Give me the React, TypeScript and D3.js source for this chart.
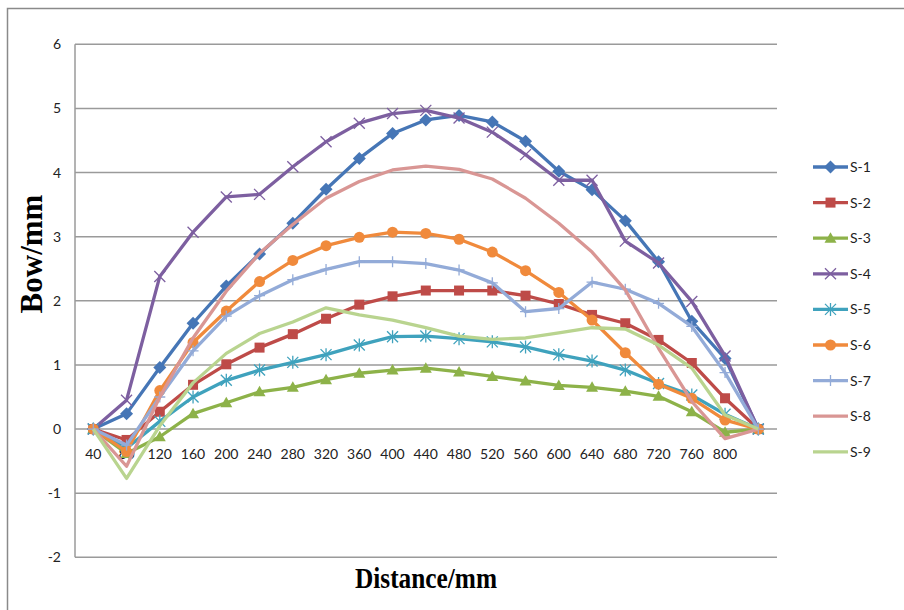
import React from "react";
import * as d3 from "d3";

const categories = ["40","80","120","160","200","240","280","320","360","400","440","480","520","560","600","640","680","720","760","800","840"];
const tickLabels = ["40","80","120","160","200","240","280","320","360","400","440","480","520","560","600","640","680","720","760","800",""];
const yTicks = [-2, -1, 0, 1, 2, 3, 4, 5, 6];

const s1 = [0, 0.24, 0.96, 1.65, 2.23, 2.73, 3.21, 3.74, 4.22, 4.61, 4.82, 4.89, 4.79, 4.49, 4.02, 3.73, 3.25, 2.61, 1.68, 1.1, 0];
const s2 = [0, -0.17, 0.27, 0.69, 1.01, 1.27, 1.48, 1.72, 1.94, 2.07, 2.16, 2.16, 2.16, 2.08, 1.95, 1.78, 1.65, 1.39, 1.03, 0.48, 0];
const s3 = [0, -0.38, -0.12, 0.24, 0.41, 0.58, 0.65, 0.77, 0.87, 0.92, 0.95, 0.89, 0.82, 0.75, 0.68, 0.65, 0.59, 0.51, 0.27, -0.05, 0];
const s4 = [0, 0.45, 2.38, 3.07, 3.62, 3.66, 4.09, 4.48, 4.77, 4.92, 4.97, 4.85, 4.63, 4.28, 3.88, 3.88, 2.93, 2.59, 1.99, 1.14, 0];
const s5 = [0, -0.3, 0.12, 0.5, 0.76, 0.92, 1.04, 1.16, 1.31, 1.44, 1.45, 1.41, 1.36, 1.28, 1.16, 1.06, 0.92, 0.71, 0.53, 0.23, 0];
const s6 = [0, -0.35, 0.6, 1.35, 1.84, 2.3, 2.63, 2.86, 2.99, 3.07, 3.05, 2.96, 2.76, 2.47, 2.13, 1.7, 1.19, 0.7, 0.48, 0.14, 0];
const s7 = [0, -0.25, 0.5, 1.22, 1.76, 2.08, 2.33, 2.49, 2.61, 2.61, 2.58, 2.48, 2.28, 1.83, 1.88, 2.29, 2.18, 1.96, 1.6, 0.88, 0];
const s8 = [0, -0.58, 0.5, 1.42, 2.15, 2.74, 3.19, 3.6, 3.86, 4.04, 4.1, 4.05, 3.9, 3.6, 3.21, 2.76, 2.17, 1.26, 0.43, -0.15, 0];
const s9 = [0, -0.77, 0.05, 0.72, 1.18, 1.49, 1.67, 1.89, 1.78, 1.7, 1.58, 1.45, 1.4, 1.42, 1.5, 1.58, 1.56, 1.31, 0.95, 0.22, 0];

const seriesNames = ["S-1","S-2","S-3","S-4","S-5","S-6","S-7","S-8","S-9"];
const seriesValues = [s1, s2, s3, s4, s5, s6, s7, s8, s9];
const seriesColors = ["#4676B6","#BE4B48","#8DB249","#7D5FA0","#3FA2BD","#F08A3C","#93ABD8","#D99694","#B9D48F"];
const seriesMarkers = ["diamond","square","triangle","x","asterisk","circle","plus","none","none"];

const W = 904, H = 610;
const x = d3.scalePoint<string>().domain(categories).range([93.3, 758.3]);
const y = d3.scaleLinear().domain([-2, 6]).range([557.3, 44.3]);
const plotLeft = 75, plotRight = 777;

function Marker({ type, cx, cy, color }: { type: string; cx: number; cy: number; color: string }) {
  switch (type) {
    case "diamond": {
      const r = 6.5;
      return <path d={`M${cx},${cy - r}L${cx + r},${cy}L${cx},${cy + r}L${cx - r},${cy}Z`} fill={color} />;
    }
    case "square":
      return <rect x={cx - 5} y={cy - 5} width={10} height={10} fill={color} />;
    case "triangle":
      return <path d={`M${cx},${cy - 6}L${cx + 6},${cy + 4.5}L${cx - 6},${cy + 4.5}Z`} fill={color} />;
    case "circle":
      return <circle cx={cx} cy={cy} r={5.5} fill={color} />;
    case "x": {
      const r = 5.5;
      return <path d={`M${cx - r},${cy - r}L${cx + r},${cy + r}M${cx - r},${cy + r}L${cx + r},${cy - r}`} stroke={color} strokeWidth={1.3} fill="none" />;
    }
    case "asterisk": {
      const r = 5.5;
      return <path d={`M${cx - r},${cy - r}L${cx + r},${cy + r}M${cx - r},${cy + r}L${cx + r},${cy - r}M${cx},${cy - r - 1}L${cx},${cy + r + 1}`} stroke={color} strokeWidth={1.3} fill="none" />;
    }
    case "plus": {
      const r = 5.5;
      return <path d={`M${cx},${cy - r}L${cx},${cy + r}M${cx - r},${cy}L${cx + r},${cy}`} stroke={color} strokeWidth={1.3} fill="none" />;
    }
    default:
      return null;
  }
}

export default function App() {
  const line = d3.line<number>()
    .x((_, i) => x(categories[i]) as number)
    .y((d) => y(d));
  const legendY0 = 167, legendStep = 35.6;
  const labelFont = "Lato, 'Open Sans', sans-serif";
  return (
    <svg width={W} height={H} style={{ position: "absolute", left: 0, top: 0, background: "#fff" }}>
      <rect x={7.5} y={8.5} width={1000} height={1000} fill="#fff" stroke="#8a8a8a" strokeWidth={1.5} />
      {yTicks.map((t) => (
        <line key={t} x1={plotLeft} x2={plotRight} y1={y(t)} y2={y(t)} stroke="#9a9a9a" strokeWidth={1.5} />
      ))}
      <line x1={plotLeft} x2={plotLeft} y1={y(6)} y2={y(-2)} stroke="#9a9a9a" strokeWidth={1.5} />
      {yTicks.map((t) => (
        <text key={t} x={61} y={y(t)} dy="0.36em" textAnchor="end" fontFamily={labelFont} fontSize={14} fill="#222">{t}</text>
      ))}
      {categories.map((c, i) => (
        <text key={c} x={x(c) as number} y={459} textAnchor="middle" fontFamily={labelFont} fontSize={14} fill="#222">{tickLabels[i]}</text>
      ))}
      {seriesValues.map((vals, si) => (
        <g key={seriesNames[si]}>
          <path d={line(vals) || ""} fill="none" stroke={seriesColors[si]} strokeWidth={3.3} strokeLinejoin="round" />
          {vals.map((v, i) => (
            <Marker key={i} type={seriesMarkers[si]} cx={x(categories[i]) as number} cy={y(v)} color={seriesColors[si]} />
          ))}
        </g>
      ))}
      {seriesNames.map((n, si) => {
        const ly = legendY0 + si * legendStep;
        return (
          <g key={n}>
            <line x1={813} x2={848} y1={ly} y2={ly} stroke={seriesColors[si]} strokeWidth={3.3} />
            <Marker type={seriesMarkers[si]} cx={830.5} cy={ly} color={seriesColors[si]} />
            <text x={850} y={ly} dy="0.36em" fontFamily={labelFont} fontSize={14} fill="#222">{n}</text>
          </g>
        );
      })}
      <text x={426} y={588} textAnchor="middle" fontFamily="'Liberation Serif', 'Times New Roman', serif" fontWeight="bold" fontSize={29} textLength={142} lengthAdjust="spacingAndGlyphs" fill="#000">Distance/mm</text>
      <text transform={`translate(42,254) rotate(-90)`} textAnchor="middle" fontFamily="'Liberation Serif', 'Times New Roman', serif" fontWeight="bold" fontSize={31} fill="#000">Bow/mm</text>
    </svg>
  );
}
